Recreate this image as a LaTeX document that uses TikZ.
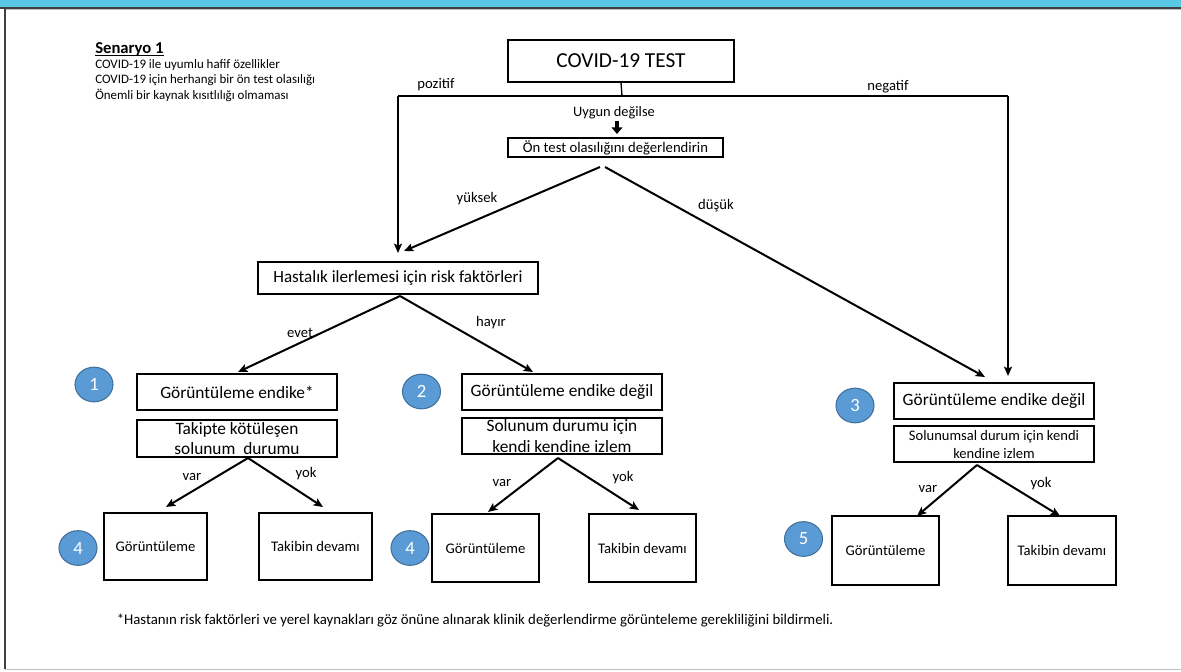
\documentclass[tikz,border=0pt]{standalone}
\usepackage{fontspec}
\setmainfont{Carlito}
\usetikzlibrary{arrows.meta,shapes.geometric}
\definecolor{topbar}{HTML}{57C7E3}
\definecolor{numfill}{HTML}{5B9BD5}
\definecolor{numedge}{HTML}{41719C}
\definecolor{framegray}{HTML}{404040}
\definecolor{lightline}{HTML}{BFBFBF}
\begin{document}
\begin{tikzpicture}[x=0.75pt,y=-0.75pt,
  box/.style 2 args={draw, line width=1pt, inner sep=0pt, align=center,
    minimum width=#1*0.75pt, minimum height=#2*0.75pt},
  arr/.style={line width=1.5pt, -{Stealth[length=7pt,width=6pt,inset=1.5pt]}},
  num/.style={ellipse, draw=numedge, fill=numfill, line width=0.8pt,
    minimum width=28.5pt, minimum height=26pt, inner sep=0pt, text=white,
    font=\fontsize{14}{14}\selectfont},
  lbl/.style={inner sep=0pt, font=\fontsize{11}{12}\selectfont},
  fbig/.style={font=\fontsize{13}{15.5}\selectfont},
  fmid/.style={font=\fontsize{11}{13}\selectfont}
]
\useasboundingbox (0,0) rectangle (1181,671);
% frame
\fill[topbar] (0,0) rectangle (1181,7);
\draw[framegray, line width=1.2pt] (0,7.8) -- (1181,7.8);
\draw[lightline, line width=0.8pt] (5,9.5) -- (1181,9.5);
\draw[framegray, line width=1.5pt] (5,8) -- (5,669);
\draw[lightline, line width=1.2pt] (5,669.5) -- (1181,669.5);

% scenario text
\node[anchor=west, inner sep=0pt, font=\bfseries\fontsize{12.5}{14}\selectfont] (sen) at (95,49) {Senaryo 1};
\draw[line width=0.8pt] ([yshift=-1.6pt]sen.base west) -- ([yshift=-1.6pt]sen.base east);
\node[anchor=north west, inner sep=0pt, align=left, font=\fontsize{9.7}{11.6}\selectfont] (sentext) at (95,59)
  {COVID-19 ile uyumlu hafif özellikler\\COVID-19 için herhangi bir ön test olasılığı\\Önemli bir kaynak kısıtlılığı olmaması};

% top boxes
\node[box={226}{42}, font=\fontsize{16}{18}\selectfont] (test) at (621,61) {COVID-19 TEST};
\coordinate (split) at (622,96);
\coordinate (pL) at (398,96);
\coordinate (pR) at (1008,96);
\node[lbl] (poz) at (436,85) {pozitif};
\node[lbl] (neg) at (888,87) {negatif};
\node[inner sep=0pt, font=\fontsize{10.8}{12}\selectfont] (uygun) at (614,113) {Uygun değilse};
\node[box={215}{19}, font=\fontsize{11}{12}\selectfont] (ontest) at (615.5,147.5) {Ön test olasılığını değerlendirin};
\coordinate (uy1) at (617,121);
\coordinate (uy2) at (617,134);

\node[box={280}{32}, font=\fontsize{12.8}{14}\selectfont] (hast) at (398,278) {Hastalık ilerlemesi için risk faktörleri};
\coordinate (hL) at (398,253);
\coordinate (hR) at (404,251);
\coordinate (oL) at (600,167);
\coordinate (oR) at (605,167);
\coordinate (dR) at (985,377);
\coordinate (vR) at (1008,376);
\node[lbl] (yuk) at (477,199) {yüksek};
\node[lbl] (dus) at (716,206) {düşük};

% connectors top
\draw[line width=1pt] (test.south) -- (split);
\draw[line width=1pt] (pL) -- (pR);
\draw[arr] (pL) -- (hL);
\draw[arr] (pR) -- (vR);
\draw[line width=3pt, -{Triangle[length=5pt,width=8pt]}] (uy1) -- (uy2);
\draw[arr] (oL) -- (hR);
\draw[arr] (oR) -- (dR);

% column 1
\node[box={200}{36}, fbig] (b1) at (237,392) {Görüntüleme endike*};
\node[box={200}{37}, fbig] (b1b) at (237,438.5) {Takipte kötüleşen\\solunum\ \ durumu};
\node[num] (n1) at (94,384.5) {1};
\node[box={103}{67}, fmid] (g1) at (155.5,546.5) {Görüntüleme};
\node[box={113}{67}, fmid] (t1) at (315.5,546.5) {Takibin devamı};
\node[num] (n4a) at (78,548) {4};
\coordinate (h0) at (400,296);
\coordinate (e1) at (238,372);
\coordinate (e2) at (533,372);
\draw[arr] (h0) -- (e1);
\draw[arr] (h0) -- (e2);
\node[lbl] (evet) at (300,333) {evet};
\node[lbl] (hayir) at (491,323) {hayır};
\coordinate (s1) at (248,458);
\draw[arr] (s1) -- (166,507) coordinate (v1);
\draw[arr] (s1) -- (323,507) coordinate (y1);
\node[lbl] (var1) at (192,477) {var};
\node[lbl] (yok1) at (306,474) {yok};

% column 2
\node[box={200}{36}, fbig] (b2) at (562,392) {Görüntüleme endike değil};
\node[box={200}{36}, fbig] (b2b) at (562,436) {Solunum durumu için\\kendi kendine izlem};
\node[num] (n2) at (421.5,391.5) {2};
\node[box={107}{68}, fmid] (g2) at (485.5,548) {Görüntüleme};
\node[box={107}{68}, fmid] (t2) at (642.5,548) {Takibin devamı};
\node[num] (n4b) at (410,548) {4};
\coordinate (s2) at (558,458);
\draw[arr] (s2) -- (488,512) coordinate (v2);
\draw[arr] (s2) -- (639,510) coordinate (y2);
\node[lbl] (var2) at (502,483) {var};
\node[lbl] (yok2) at (623,478) {yok};

% column 3
\node[box={200}{36}, fbig] (b3) at (994,401) {Görüntüleme endike değil};
\node[box={200}{36}, font=\fontsize{10.9}{13.5}\selectfont] (b3b) at (994,444) {Solunumsal durum için kendi\\kendine izlem};
\node[num] (n3) at (855,405.5) {3};
\node[box={107}{69}, fmid] (g3) at (885.5,550.5) {Görüntüleme};
\node[box={108}{69}, fmid] (t3) at (1062,550.5) {Takibin devamı};
\node[num] (n5) at (803.5,539) {5};
\coordinate (s3) at (977,465);
\draw[arr] (s3) -- (917,516) coordinate (v3);
\draw[arr] (s3) -- (1060,516) coordinate (y3);
\node[lbl] (var3) at (928,489) {var};
\node[lbl] (yok3) at (1041,484) {yok};

% footnote
\node[inner sep=0pt, font=\fontsize{11.1}{12}\selectfont] (foot) at (475,621) {*Hastanın risk faktörleri ve yerel kaynakları göz önüne alınarak klinik değerlendirme görünteleme gerekliliğini bildirmeli.};
\end{tikzpicture}
\end{document}
